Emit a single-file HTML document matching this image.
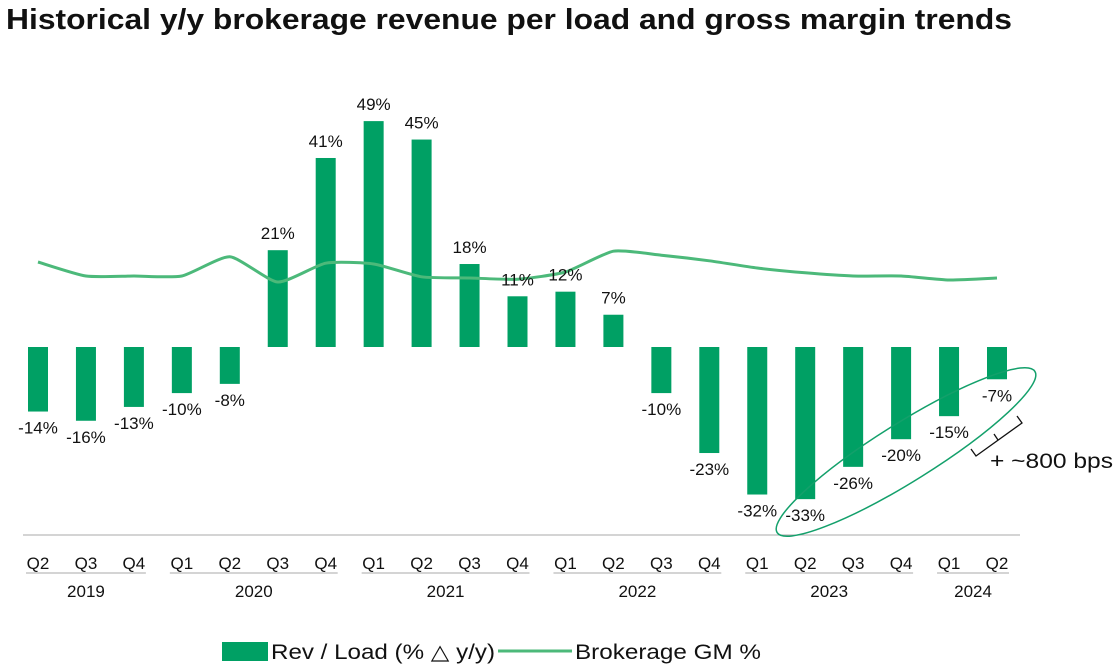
<!DOCTYPE html>
<html><head><meta charset="utf-8"><style>
body{margin:0;background:#fff;font-family:"Liberation Sans",Arial,sans-serif;}
svg text{font-family:"Liberation Sans",Arial,sans-serif;}
</style></head><body>
<svg id="chart" width="1116" height="664" viewBox="0 0 1116 664" xmlns="http://www.w3.org/2000/svg">
<text x="6" y="29" font-size="29" font-weight="bold" fill="#111" textLength="1006" lengthAdjust="spacingAndGlyphs">Historical y/y brokerage revenue per load and gross margin trends</text>
<line x1="23" y1="535" x2="1020" y2="535" stroke="#aaa" stroke-width="1"/>
<g id="bars"></g><g id="line"></g><g id="labels"></g><g id="xaxis"></g>
<ellipse cx="906" cy="452" rx="152" ry="29" transform="rotate(-32 906 452)" fill="none" stroke="#13a06b" stroke-width="1.5"/>
<path d="M971 449 L976 456 L1022 423 L1017 416 M998 440 L994 434" fill="none" stroke="#111" stroke-width="1.3"/>
<text x="990" y="468" font-size="21" fill="#111" textLength="123" lengthAdjust="spacingAndGlyphs">+  ~800 bps</text>
<rect x="222" y="642" width="46" height="19" fill="#00a064"/>
<text x="271" y="659" font-size="21" fill="#111" textLength="224" lengthAdjust="spacingAndGlyphs">Rev / Load (% △ y/y)</text>
<line x1="498" y1="651" x2="572" y2="651" stroke="#4cb97a" stroke-width="3"/>
<text x="575" y="659" font-size="21" fill="#111" textLength="186" lengthAdjust="spacingAndGlyphs">Brokerage GM %</text>
</svg>
<script>
const quarters=["Q2","Q3","Q4","Q1","Q2","Q3","Q4","Q1","Q2","Q3","Q4","Q1","Q2","Q3","Q4","Q1","Q2","Q3","Q4","Q1","Q2"];
const revPerLoad=[-14,-16,-13,-10,-8,21,41,49,45,18,11,12,7,-10,-23,-32,-33,-26,-20,-15,-7];
const grossMargin=[17.25,15.5,15.5,15.5,17.9,14.75,17.1,17.0,15.4,15.25,15.1,16.0,18.6,18.1,17.4,16.5,15.9,15.5,15.5,15.0,15.25];
const years=["2019","2020","2021","2022","2023","2024"];
const yearCounts=[3,4,4,4,4,2];
const NS="http://www.w3.org/2000/svg";
const x0=38,step=47.95,bw=20;
const xs=i=>x0+i*step;
const ys=v=>347-v*4.61;
const yg=v=>400-v*8;
function mk(t,a,p){const e=document.createElementNS(NS,t);for(const k in a)e.setAttribute(k,a[k]);document.getElementById(p).appendChild(e);return e;}
revPerLoad.forEach((v,i)=>{
  const y0=ys(0),y1=ys(v);
  const r=mk("rect",{x:xs(i)-bw/2,y:Math.min(y0,y1),width:bw,height:Math.abs(y1-y0),fill:"#00a064"},"bars");
  
  
  const t=mk("text",{x:xs(i),y:v>=0?y1-11:y1+22,"font-size":"17","text-anchor":"middle",fill:"#111"},"labels");
  
  
  t.textContent=v+"%";
});
let pts=grossMargin.map((v,i)=>[xs(i),yg(v)]);
let d="M"+pts[0][0]+" "+pts[0][1];
const k=10;
for(let i=0;i<pts.length-1;i++){
  const p0=pts[Math.max(0,i-1)],p1=pts[i],p2=pts[i+1],p3=pts[Math.min(pts.length-1,i+2)];
  const c1x=p1[0]+(p2[0]-p0[0])/k,c1y=p1[1]+(p2[1]-p0[1])/k;
  const c2x=p2[0]-(p3[0]-p1[0])/k,c2y=p2[1]-(p3[1]-p1[1])/k;
  d+=` C${c1x} ${c1y} ${c2x} ${c2y} ${p2[0]} ${p2[1]}`;
}
const ln=mk("path",{d:d,fill:"none",stroke:"#4cb97a","stroke-width":"3"},"line");


quarters.forEach((q,i)=>{
  const t=mk("text",{x:xs(i),y:569,"font-size":"17","text-anchor":"middle",fill:"#111"},"xaxis");
  
  
  t.textContent=q;
});
let idx=0;
years.forEach((yr,j)=>{
  const a=idx,b=idx+yearCounts[j]-1;idx+=yearCounts[j];
  const l=mk("line",{x1:xs(a)-12,x2:xs(b)+12,y1:573,y2:573,stroke:"#aaa","stroke-width":"1"},"xaxis");
  
  
  const t=mk("text",{x:(xs(a)+xs(b))/2,y:597,"font-size":"17","text-anchor":"middle",fill:"#111"},"xaxis");
  
  
  t.textContent=yr;
});
</script>
</body></html>
